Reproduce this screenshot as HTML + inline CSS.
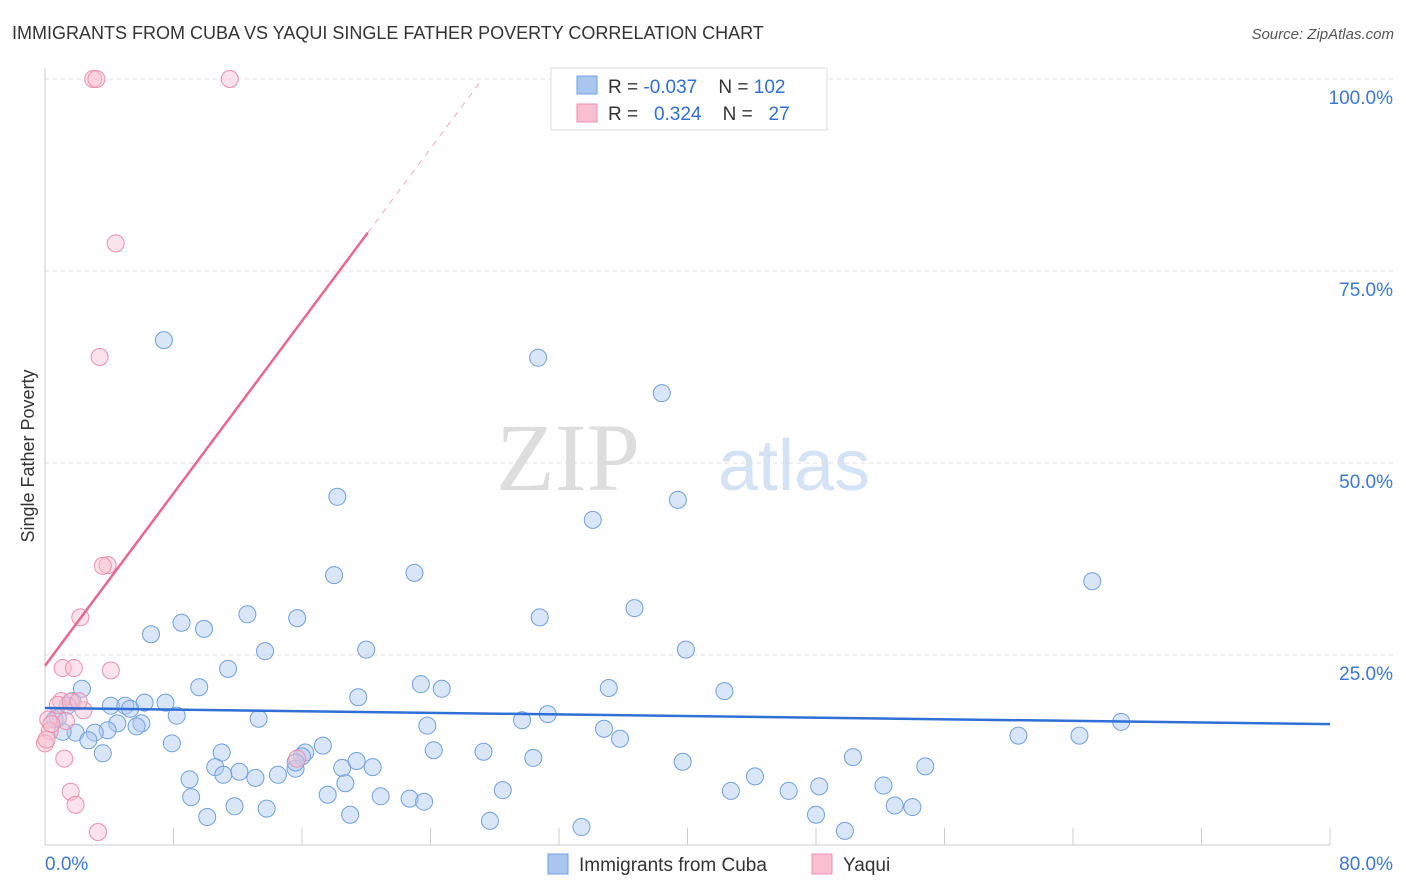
<!DOCTYPE html>
<html><head><meta charset="utf-8"><style>
body{margin:0;background:#fff;font-family:"Liberation Sans",sans-serif;}
svg{display:block}
</style></head><body>
<svg id="c" width="1406" height="892" xmlns="http://www.w3.org/2000/svg">
<text x="12" y="39" font-size="18" fill="#333">IMMIGRANTS FROM CUBA VS YAQUI SINGLE FATHER POVERTY CORRELATION CHART</text>
<text x="1394" y="39" font-size="15" fill="#555" font-style="italic" text-anchor="end">Source: ZipAtlas.com</text>
<text x="34" y="456" font-size="18" fill="#333" text-anchor="middle" transform="rotate(-90 34 456)">Single Father Poverty</text>
<text x="640" y="490" font-size="96" fill="#ddd" font-family="Liberation Serif" text-anchor="end">ZIP</text>
<text x="718" y="490" font-size="72" fill="#d3e2f5">atlas</text>
<g id="grid"></g><g id="axes"></g><g id="pts"></g><g id="lines"></g>
<g>
<rect x="551" y="68" width="276" height="62" fill="#fff" stroke="#ddd"/>
<rect x="577" y="76" width="20" height="18" fill="#a9c6ef" stroke="#6fa0e0"/>
<rect x="577" y="104" width="20" height="18" fill="#f7bfd0" stroke="#ee8fab"/>
<text x="608" y="93" font-size="19" fill="#333" xml:space="preserve">R = <tspan fill="#2f6fd6">-0.037</tspan>    N = <tspan fill="#2f6fd6">102</tspan></text>
<text x="608" y="120" font-size="19" fill="#333" xml:space="preserve">R =   <tspan fill="#2f6fd6">0.324</tspan>    N =   <tspan fill="#2f6fd6">27</tspan></text>
</g>
<g>
<rect x="548" y="854" width="20" height="20" fill="#a9c6ef" stroke="#6fa0e0"/>
<text x="579" y="871" font-size="19" fill="#333">Immigrants from Cuba</text>
<rect x="812" y="854" width="20" height="20" fill="#f7bfd0" stroke="#ee8fab"/>
<text x="843" y="871" font-size="19" fill="#333">Yaqui</text>
</g>
</svg>
<script>
const cubaX=[7.4,30.7,38.4,18.2,39.4,34.1,65.2,18,23,12.6,15.7,8.5,9.9,6.6,30.8,36.7,13.7,20,39.9,11.4,2.3,9.6,19.5,23.4,24.7,35.1,42.3,1.7,4.1,5,6.2,7.5,1.4,5.3,8.2,13.3,29.7,31.3,23.8,34.8,67,60.6,64.4,4.5,6,5.7,3.9,3.1,1.9,1.1,0.6,0.8,2.7,3.6,7.9,11,17.3,24.2,27.3,35.8,50.3,30.4,16.2,16,10.6,12.1,11.1,13.1,14.5,15.6,18.5,19.4,20.4,9,39.7,54.8,44.2,18.7,48.2,52.2,28.5,42.7,46.3,17.6,20.9,9.1,22.7,23.6,11.8,13.8,52.9,54,10.1,19,27.7,33.4,48,49.8,15.6];
const cubaY=[66,63.7,59.1,45.6,45.2,42.6,34.6,35.4,35.7,30.3,29.8,29.2,28.4,27.7,29.9,31.1,25.5,25.7,25.7,23.2,20.6,20.8,19.5,21.2,20.6,20.7,20.3,19,18.4,18.4,18.8,18.8,18.4,18,17.1,16.7,16.5,17.3,15.8,15.4,16.3,14.5,14.5,16.1,16.1,15.7,15.2,14.9,14.9,15,16.6,16.8,13.9,12.2,13.5,12.3,13.2,12.6,12.4,14.1,11.7,11.6,12.3,11.8,10.4,9.8,9.4,9,9.4,10.2,10.3,11.2,10.4,8.8,11.1,10.5,9.2,8.3,7.9,8,7.4,7.3,7.3,6.8,6.6,6.5,6.3,5.9,5.3,5,5.4,5.2,3.9,4.2,3.4,2.6,4.2,2.1,11];
const yaquiX=[3,3.2,11.5,4.4,3.4,3.9,3.6,2.2,1.1,1.8,4.1,1,0.8,1.6,2.4,2.1,0.2,0.3,0,1.3,1.2,1.6,1.9,3.3,15.7,0.4,0.1];
const yaquiY=[100,100,100,78.6,63.8,36.7,36.6,29.9,23.3,23.3,23,19,18.5,18.9,17.8,19,16.6,15.1,13.5,16.4,11.5,7.2,5.5,1.95,11.5,16,14];
const trendCuba=[18.1,16.0], trendYaqui=[23.6,80];
const X=v=>45+v/80*1285, Y=v=>847-v*7.68, NS="http://www.w3.org/2000/svg";
function mk(p,t,a){const e=document.createElementNS(NS,t);for(const k in a)e.setAttribute(k,a[k]);document.getElementById(p).appendChild(e);return e;}
[25,50,75,100].forEach(v=>{
 const l=mk('grid','line',{x1:45,x2:1395,y1:Y(v),y2:Y(v),stroke:'#ddd','stroke-dasharray':'4 4'});
 
 
 const t=mk('grid','text',{x:1393,y:Y(v)+25,'font-size':19,fill:'#3b78d8','text-anchor':'end'});t.textContent=v.toFixed(1)+'%';
 
 
});
mk('axes','line',{x1:45,x2:45,y1:68,y2:845,stroke:'#ccc'});
mk('axes','line',{x1:45,x2:1330,y1:845,y2:845,stroke:'#ccc'});
for(let i=1;i<=10;i++){mk('axes','line',{x1:X(i*8),x2:X(i*8),y1:828,y2:845,stroke:'#ccc'});}
const x0=mk('axes','text',{x:45,y:870,'font-size':19,fill:'#3b78d8'});x0.textContent='0.0%';


const x1=mk('axes','text',{x:1393,y:870,'font-size':19,fill:'#3b78d8','text-anchor':'end'});x1.textContent='80.0%';


cubaX.forEach((v,i)=>{const c=mk('pts','circle',{cx:X(v),cy:Y(cubaY[i]),r:8.5,fill:'rgba(170,200,240,0.45)',stroke:'#6fa0e0','stroke-width':1});
 
 });
yaquiX.forEach((v,i)=>{const c=mk('pts','circle',{cx:X(v),cy:Y(yaquiY[i]),r:8.5,fill:'rgba(248,190,208,0.45)',stroke:'#ee8fab','stroke-width':1});
 
 });
const lc=mk('lines','line',{x1:X(0),y1:Y(trendCuba[0]),x2:X(80),y2:Y(trendCuba[1]),stroke:'#2f6fd6','stroke-width':2.5});


const xe=20.1, slope=(trendYaqui[1]-trendYaqui[0])/xe, xd=(100-trendYaqui[0])/slope;
const ly=mk('lines','line',{x1:X(0),y1:Y(trendYaqui[0]),x2:X(xe),y2:Y(trendYaqui[1]),stroke:'#e8688f','stroke-width':2.5});


const ld=mk('lines','line',{x1:X(xe),y1:Y(trendYaqui[1]),x2:X(xd),y2:Y(100),stroke:'#f0a8bd','stroke-width':1,'stroke-dasharray':'6 6'});


</script>
</body></html>
